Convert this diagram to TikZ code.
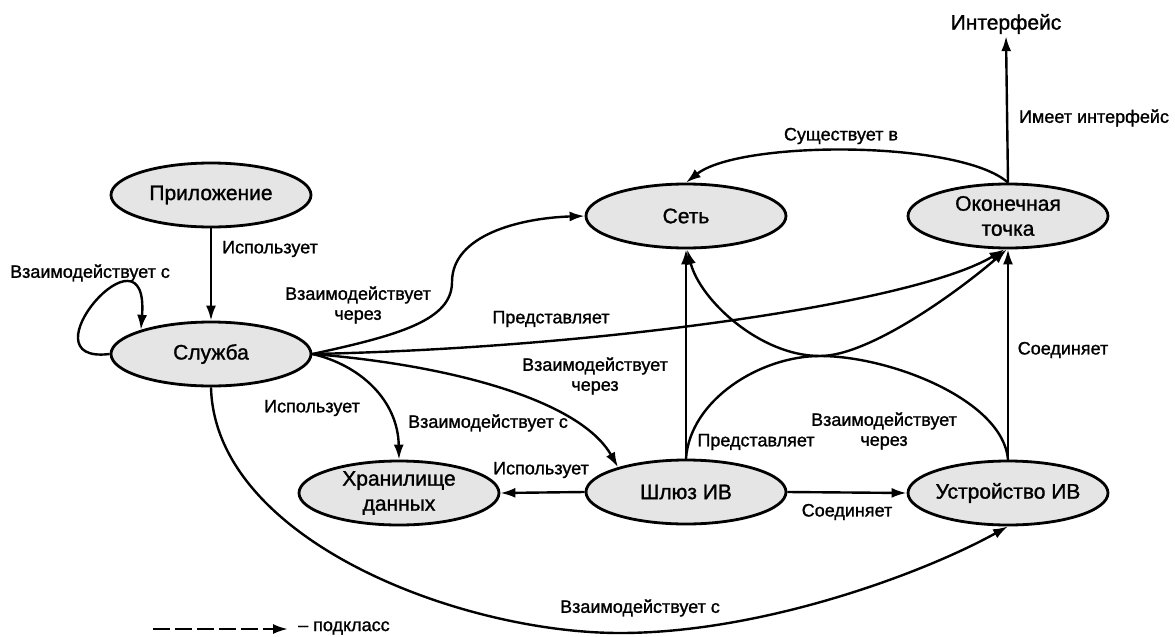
\documentclass[tikz,border=0pt]{standalone}
\usepackage{fontspec}
\setmainfont{Liberation Sans}[FakeBold=1.2]
\usetikzlibrary{shapes.geometric,arrows.meta}

\begin{document}
\begin{tikzpicture}[x=1pt,y=-1pt,
  entity/.style={ellipse,draw,line width=2.8pt,fill=gray!20,
    minimum width=200pt,minimum height=64pt,inner xsep=-6pt,inner ysep=0pt,
    align=center,font=\fontsize{21}{25}\selectfont},
  rel/.style={line width=2.4pt,-{Latex[length=15pt,width=10pt]}},
  lbl/.style={font=\fontsize{18}{20}\selectfont,align=center,inner sep=0pt},
]
\useasboundingbox (0,0) rectangle (1175,637);

% entities
\node[entity] (app)   at (211,195)  {Приложение};
\node[entity] (svc)   at (211,354)  {Служба};
\node[entity] (net)   at (686,216)  {Сеть};
\node[entity] (ep)    at (1008,216) {Оконечная\\точка};
\node[entity] (store) at (399,493)  {Хранилище\\данных};
\node[entity] (gw)    at (686,492)  {Шлюз ИВ};
\node[entity] (dev)   at (1008,493) {Устройство ИВ};
\node[font=\fontsize{21}{25}\selectfont,inner sep=2pt] (iface) at (1006,24) {Интерфейс};

% helper points
\coordinate (bendA) at (452,282);
\coordinate (lowpt) at (620,633);
\coordinate (touch) at (820,356);

% relations
\draw[rel] (app.south) -- (svc.north);
\draw[rel] (svc.west) .. controls (20,365) and (150,215) .. (svc.161);
\draw[rel] (svc.east) .. controls (400,335) and (452,320) .. (bendA)
                      .. controls (452,235) and (520,218) .. (net.west);
\draw[rel] (svc.east) .. controls (600,348) and (915,303) .. (ep.-96);
\draw[rel] (svc.east) .. controls (450,365) and (580,400) .. (gw.160);
\draw[rel] (svc.east) .. controls (360,365) and (398,400) .. (store.north);
\draw[rel] (svc.south) .. controls (215,540) and (460,633) .. (lowpt)
                       .. controls (760,633) and (920,575) .. (dev.south);
\draw[rel] (gw.west) -- (store.east);
\draw[rel] (gw.east) -- (dev.west);
\draw[rel] (gw.north) -- (net.south);
\draw[rel] (dev.north) -- (ep.south);
\draw[rel] (ep.north) -- (iface.south);
\draw[rel] (ep.north) .. controls (960,140) and (740,140) .. (net.north);
\draw[rel] (gw.north) .. controls (690,400) and (760,356) .. (touch)
                      .. controls (870,356) and (960,290) .. (ep.-92);
\draw[rel] (dev.north) .. controls (1003,400) and (890,356) .. (touch)
                       .. controls (760,356) and (700,300) .. (net.-88);

% relation labels
\node[lbl] at (270,249)  {Использует};
\node[lbl] at (90,273)   {Взаимодействует с};
\node[lbl] at (358,305)  {Взаимодействует\\через};
\node[lbl] at (551,319)  {Представляет};
\node[lbl] at (595,376)  {Взаимодействует\\через};
\node[lbl] at (312,408)  {Использует};
\node[lbl] at (488,423)  {Взаимодействует с};
\node[lbl] at (541,470)  {Использует};
\node[lbl] at (847,512)  {Соединяет};
\node[lbl] at (756,442)  {Представляет};
\node[lbl] at (1063,350) {Соединяет};
\node[lbl] at (1094,118) {Имеет интерфейс};
\node[lbl] at (841,136)  {Существует в};
\node[lbl] at (884,431)  {Взаимодействует\\через};
\node[lbl] at (640,608)  {Взаимодействует с};

% legend
\coordinate (lgA) at (153,629);
\coordinate (lgB) at (288,629);
\draw[rel,dash pattern=on 17pt off 5pt] (lgA) -- (lgB);
\node[lbl,anchor=west] at (298,628) {– подкласс};
\end{tikzpicture}
\end{document}
